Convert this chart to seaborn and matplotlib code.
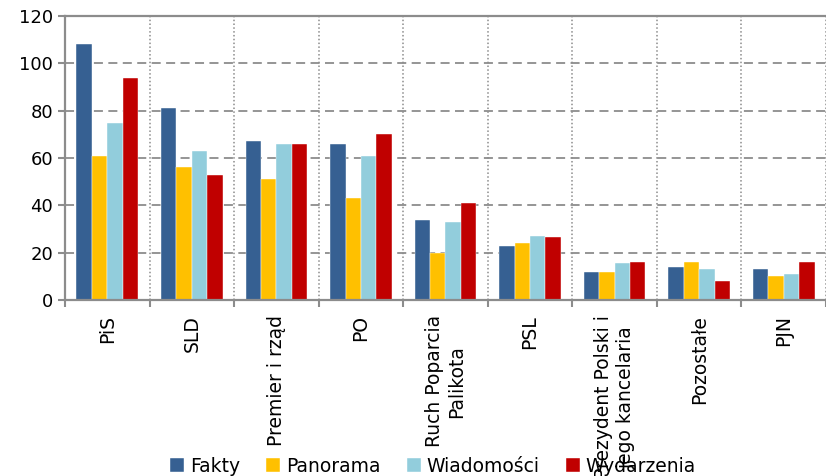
import matplotlib.pyplot as plt
import matplotlib.ticker as ticker
import pandas as pd
import seaborn as sns

# values
categories = ["PiS", "SLD", "Premier i rząd", "PO", "Ruch Poparcia\nPalikota",
              "PSL", "Prezydent Polski i\njego kancelaria", "Pozostałe", "PJN"]
series = ["Fakty", "Panorama", "Wiadomości", "Wydarzenia"]
fakty = [108, 81, 67, 66, 34, 23, 12, 14, 13]
panorama = [61, 56, 51, 43, 20, 24, 12, 16, 10]
wiadomosci = [75, 63, 66, 61, 33, 27, 15.5, 13, 11]
wydarzenia = [94, 53, 66, 70, 41, 26.5, 16, 8, 16]
colors = ["#366092", "#FFC000", "#92CDDC", "#C00000"]
yticks = [0, 20, 40, 60, 80, 100, 120]


def main():
    df = pd.DataFrame({
        "kategoria": categories * 4,
        "program": [s for s in series for _ in categories],
        "wartosc": fakty + panorama + wiadomosci + wydarzenia,
    })

    sns.set_style("white")
    plt.rcParams["font.family"] = ["DejaVu Sans"]
    plt.rcParams["text.color"] = "black"
    plt.rcParams["xtick.labelcolor"] = "black"
    plt.rcParams["ytick.labelcolor"] = "black"

    fig = plt.figure(figsize=(8.26, 4.76), dpi=100)
    ax = fig.add_axes([65 / 826, 1 - 300 / 476, 1 - 65 / 826, 284 / 476])

    sns.barplot(data=df, x="kategoria", y="wartosc", hue="program",
                palette=colors, width=0.73, saturation=1, ax=ax,
                edgecolor="white", linewidth=0.3)

    ax.set_ylim(0, 120)
    ax.set_xlim(-0.5, len(categories) - 0.5)
    ax.set_yticks(yticks)
    ax.set_xlabel("")
    ax.set_ylabel("")

    # category labels at the centers, tick marks at the boundaries
    ax.set_xticks(range(len(categories)))
    ax.set_xticklabels(categories, rotation=90, va="top", ha="center",
                       multialignment="center")
    ax.tick_params(axis="x", which="major", length=0, pad=11, labelsize=13.5,
                   labelcolor="black")
    ax.xaxis.set_minor_locator(ticker.FixedLocator(
        [i - 0.5 for i in range(len(categories) + 1)]))
    ax.tick_params(axis="x", which="minor", length=5, width=1.5,
                   color="#8c8c8c", direction="out", bottom=True)
    ax.tick_params(axis="y", length=5, width=1.5, color="#8c8c8c",
                   direction="out", left=True, labelsize=13,
                   labelcolor="black")

    ax.set_axisbelow(True)
    ax.yaxis.grid(True, linestyle=(0, (5, 3)), color="#8c8c8c", linewidth=1.3)
    ax.xaxis.grid(True, which="minor", linestyle=(0, (1, 1.5)),
                  color="#8c8c8c", linewidth=1.1)
    ax.xaxis.grid(False, which="major")

    for side in ["left", "bottom", "top"]:
        ax.spines[side].set_color("#8c8c8c")
        ax.spines[side].set_linewidth(1.6)
    ax.spines["right"].set_visible(False)

    handles, labels = ax.get_legend_handles_labels()
    leg = ax.legend(handles, labels, ncol=4, frameon=False, fontsize=13.5,
                    loc="center", bbox_to_anchor=(433 / 826, 1 - 466 / 476),
                    bbox_transform=fig.transFigure, handlelength=0.75,
                    handleheight=0.75, handletextpad=0.3, columnspacing=1.4)
    for t in leg.get_texts():
        t.set_color("black")

    fig.savefig("out.png", dpi=100)


if __name__ == "__main__":
    main()
